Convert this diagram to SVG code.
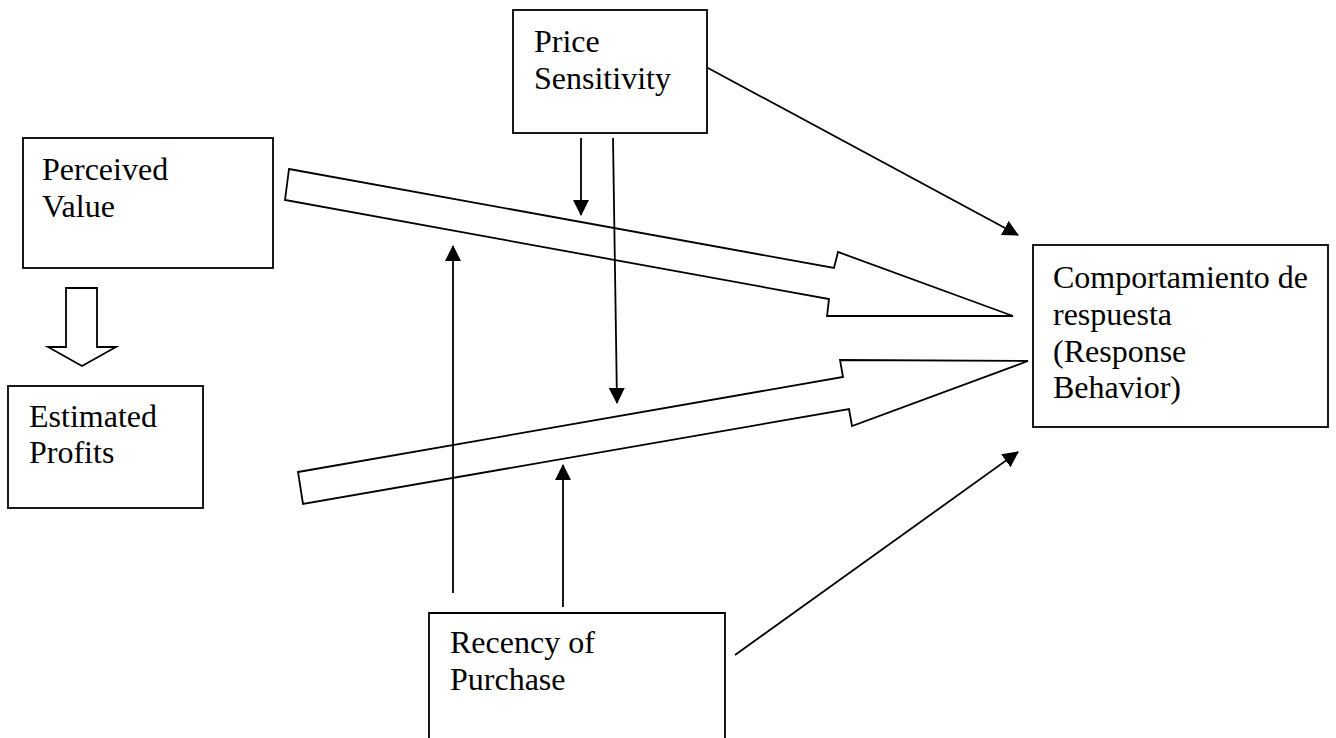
<svg xmlns="http://www.w3.org/2000/svg" width="1336" height="738" viewBox="0 0 1336 738">
  <style>
    .box { fill: #fff; stroke: #000; stroke-width: 1.8; }
    .label { font-family: "Liberation Serif", "Times New Roman", serif; font-size: 32px; fill: #000; }
    .link { fill: none; stroke: #000; stroke-width: 1.8; }
    .block { fill: #fff; stroke: #000; stroke-width: 1.8; stroke-linejoin: miter; }
  </style>
  <defs>
    <marker id="head" markerUnits="userSpaceOnUse" markerWidth="16" markerHeight="16" viewBox="0 0 16 16" refX="15" refY="8" orient="auto">
      <path d="M0,0 L16,8 L0,16 Z" fill="#000"/>
    </marker>
  </defs>
  <rect width="1336" height="738" fill="#fff"/>

  <!-- block arrows -->
  <g id="block-arrows">
    <polygon class="block" points="97,288 97,347 116,347 82,366 48,347 66,347 66,288"/>
    <polygon class="block" points="289,169 834,268 838,252 1013,316 827,316 829,299 285,200"/>
    <polygon class="block" points="298,472 843,377 840,360 1028,361 852,426 849,409 303,504"/>
  </g>

  <!-- connectors -->
  <g id="connectors">
    <line class="link" x1="581" y1="138" x2="581" y2="215" marker-end="url(#head)"/>
    <line class="link" x1="613" y1="138" x2="617" y2="403" marker-end="url(#head)"/>
    <line class="link" x1="453" y1="593" x2="453" y2="246" marker-end="url(#head)"/>
    <line class="link" x1="563" y1="607" x2="563" y2="465" marker-end="url(#head)"/>
    <line class="link" x1="708" y1="68" x2="1018" y2="235" marker-end="url(#head)"/>
    <line class="link" x1="735" y1="655" x2="1018" y2="452" marker-end="url(#head)"/>
  </g>

  <g id="perceived-value">
    <rect class="box" x="23" y="138" width="250" height="130"/>
    <text class="label" x="42" y="180">Perceived</text>
    <text class="label" x="42" y="217">Value</text>
  </g>

  <g id="estimated-profits">
    <rect class="box" x="8" y="386" width="195" height="122"/>
    <text class="label" x="29" y="427">Estimated</text>
    <text class="label" x="29" y="463">Profits</text>
  </g>

  <g id="price-sensitivity">
    <rect class="box" x="513" y="10" width="194" height="123"/>
    <text class="label" x="534" y="52">Price</text>
    <text class="label" x="534" y="89">Sensitivity</text>
  </g>

  <g id="response-behavior">
    <rect class="box" x="1033" y="245" width="295" height="182"/>
    <text class="label" x="1053" y="288">Comportamiento de</text>
    <text class="label" x="1053" y="325">respuesta</text>
    <text class="label" x="1053" y="362">(Response</text>
    <text class="label" x="1053" y="398">Behavior)</text>
  </g>

  <g id="recency-of-purchase">
    <path class="box" d="M429,745 L429,613 L725,613 L725,745"/>
    <text class="label" x="450" y="653">Recency of</text>
    <text class="label" x="450" y="690">Purchase</text>
  </g>
</svg>
